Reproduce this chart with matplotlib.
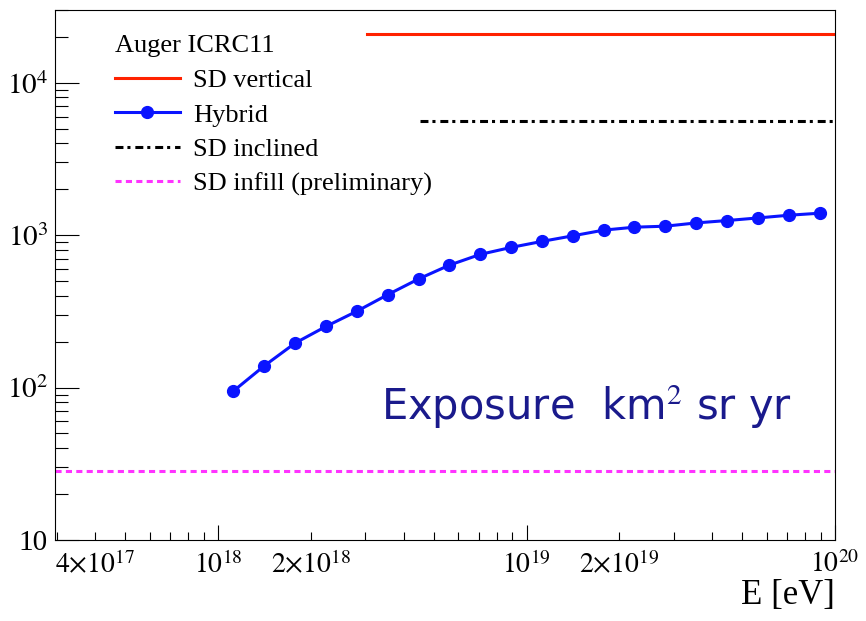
import numpy as np
import matplotlib
matplotlib.use("Agg")
import matplotlib.pyplot as plt
from matplotlib.ticker import FixedLocator, FixedFormatter, NullFormatter

plt.rcParams['font.family'] = ['Liberation Serif', 'DejaVu Serif']
plt.rcParams['mathtext.fontset'] = 'stix'

# data
hyb_logE = [18.05, 18.15, 18.25, 18.35, 18.45, 18.55, 18.65, 18.75, 18.85, 18.95,
            19.05, 19.15, 19.25, 19.35, 19.45, 19.55, 19.65, 19.75, 19.85, 19.95]
hyb_expo = [95, 139, 196, 252, 317, 407, 516, 636, 748, 831,
            910, 990, 1079, 1128, 1145, 1203, 1247, 1297, 1351, 1393]
sd_vert_E = [3.05e18, 1e20]
sd_vert_expo = [2.09e4, 2.09e4]
sd_incl_E = [4.5e18, 1e20]
sd_incl_expo = [5650, 5650]
sd_infill_E = [2.96e17, 1e20]
sd_infill_expo = [28.5, 28.5]

xmaj = [1e18, 1e19, 1e20]
xmaj_lab = [r'$10^{18}$', r'$10^{19}$', r'$10^{20}$']
xlab_minor = {4e17: r'$4{\times}10^{17}$', 2e18: r'$2{\times}10^{18}$', 2e19: r'$2{\times}10^{19}$'}
ymaj = [10, 100, 1000, 10000]
ymaj_lab = ['10', r'$10^{2}$', r'$10^{3}$', r'$10^{4}$']

fig = plt.figure(figsize=(8.66, 6.21), dpi=100)
ax = fig.add_axes([0.0635, 0.1304, 0.9007, 0.8535])

ax.plot(sd_vert_E, sd_vert_expo, color='#ff2200', lw=2.2, label='SD vertical')
ax.plot(10 ** np.array(hyb_logE), hyb_expo, color='#0a14ff', lw=2.2, marker='o',
        ms=8.5, label='Hybrid')
ax.plot(sd_incl_E, sd_incl_expo, color='black', lw=2.2, dashes=(2.6, 1.3, 1.0, 1.6),
        label='SD inclined')
ax.plot(sd_infill_E, sd_infill_expo, color='#ff33ff', lw=2.2, dashes=(2.0, 1.4),
        label='SD infill (preliminary)')

ax.set_xscale('log')
ax.set_yscale('log')
ax.set_xlim(2.96e17, 1e20)
ax.set_ylim(10, 3e4)

# ticks
ax.xaxis.set_major_locator(FixedLocator(xmaj))
ax.xaxis.set_major_formatter(FixedFormatter(xmaj_lab))
xmin = [m * 10.0 ** e for e in (17, 18, 19) for m in range(2, 10) if m * 10.0 ** e >= 2.96e17]
ax.xaxis.set_minor_locator(FixedLocator(xmin))
ax.xaxis.set_minor_formatter(FixedFormatter([xlab_minor.get(v, '') for v in xmin]))
ax.yaxis.set_major_locator(FixedLocator(ymaj))
ax.yaxis.set_major_formatter(FixedFormatter(ymaj_lab))
ymin = [m * 10.0 ** e for e in (1, 2, 3, 4) for m in range(2, 10) if m * 10.0 ** e <= 3e4]
ax.yaxis.set_minor_locator(FixedLocator(ymin))
ax.yaxis.set_minor_formatter(NullFormatter())

ax.tick_params(axis='x', which='major', direction='in', length=11, width=0.8,
               labelsize=20, pad=8)
ax.tick_params(axis='x', which='minor', direction='in', length=6, width=0.8,
               labelsize=20, pad=8)
ax.tick_params(axis='y', which='major', direction='in', length=17, width=0.8,
               labelsize=21, pad=5)
ax.tick_params(axis='y', which='minor', direction='in', length=9, width=0.8)
for s in ax.spines.values():
    s.set_linewidth(0.8)

ax.set_xlabel('E [eV]', fontsize=25, loc='right', labelpad=0)

leg = ax.legend(loc='upper left', bbox_to_anchor=(0.063, 0.972), frameon=False,
                title='Auger ICRC11', alignment='left', fontsize=19,
                title_fontsize=19, handlelength=2.46, handletextpad=0.5,
                labelspacing=0.42, borderaxespad=0)

ax.text(0.681, 0.251, r'Exposure  km$^2$ sr yr', transform=ax.transAxes,
        ha='center', va='center', fontsize=30, color='#1a1a8c',
        family='DejaVu Sans')

fig.savefig('out.png', dpi=100)
